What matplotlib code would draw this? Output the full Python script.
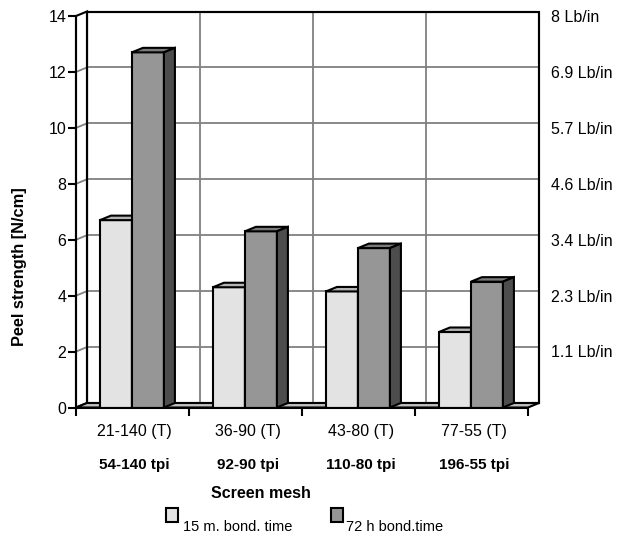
import matplotlib
matplotlib.use("Agg")
import matplotlib.pyplot as plt
from matplotlib.patches import Polygon, Rectangle

plt.rcParams['font.family'] = ['Liberation Sans', 'DejaVu Sans']

# data
mesh = ["21-140 (T)", "36-90 (T)", "43-80 (T)", "77-55 (T)"]
mesh_tpi = ["54-140 tpi", "92-90 tpi", "110-80 tpi", "196-55 tpi"]
bond_15m = [6.7, 4.3, 4.15, 2.7]
bond_72h = [12.7, 6.3, 5.7, 4.5]
series_names = ["15 m. bond. time", "72 h bond.time"]
y_ticks = [0, 2, 4, 6, 8, 10, 12, 14]
lb_labels = ["8 Lb/in", "6.9 Lb/in", "5.7 Lb/in", "4.6 Lb/in", "3.4 Lb/in", "2.3 Lb/in", "1.1 Lb/in"]
lb_levels = [14, 12, 10, 8, 6, 4, 2]

W, H = 631, 537
fig = plt.figure(figsize=(W/100, H/100), dpi=100)
# front plane of the pseudo 3d box, in pixels
x0, x1, yb, yt = 76, 528, 407.5, 16
ax = fig.add_axes([x0/W, 1-yb/H, (x1-x0)/W, (yb-yt)/H])
ax.set_xlim(0, 4)
ax.set_ylim(0, 14)
ax.patch.set_visible(False)

pxx = 4/(x1-x0)       # data units per pixel
pxy = 14/(yb-yt)
dx, dy = 11*pxx, 4.5*pxy   # depth offset

grid_c = '#808080'
lw_edge = 1.5

# back wall
ax.add_patch(Polygon([(dx, dy), (4+dx, dy), (4+dx, 14+dy), (dx, 14+dy)], closed=True,
                     facecolor='white', edgecolor='black', lw=lw_edge, clip_on=False, zorder=1))
# side wall
ax.add_patch(Polygon([(0, 0), (0, 14), (dx, 14+dy), (dx, dy)], closed=True,
                     facecolor='white', edgecolor='black', lw=lw_edge, clip_on=False, zorder=1))
for v in y_ticks[1:-1]:
    ax.plot([dx, 4+dx], [v+dy, v+dy], color=grid_c, lw=1.3, clip_on=False, zorder=1.5)
    ax.plot([0, dx], [v, v+dy], color=grid_c, lw=1.3, clip_on=False, zorder=1.5)
for k in range(1, 4):
    ax.plot([k+dx, k+dx], [dy, 14+dy], color=grid_c, lw=1.3, clip_on=False, zorder=1.5)
# redraw wall borders on top of grid
ax.plot([dx, dx, 4+dx, 4+dx], [dy, 14+dy, 14+dy, dy], color='black', lw=lw_edge,
        clip_on=False, zorder=1.6)
# floor
ax.add_patch(Polygon([(0, 0), (4, 0), (4+dx, dy), (dx, dy)], closed=True,
                     facecolor='#c0c0c0', edgecolor='black', lw=lw_edge, clip_on=False, zorder=2))

# bars
bw = 0.283
off = 0.212
colors = [('#e3e3e3', '#b4b4b4', '#8c8c8c'), ('#969696', '#7a7a7a', '#4d4d4d')]
z = 3
for i in range(len(mesh)):
    for s, vals in enumerate([bond_15m, bond_72h]):
        v = vals[i]
        xl = i + off + s*bw
        front, top, side = colors[s]
        ax.bar(xl, v, width=bw, align='edge', color=front, edgecolor='black', lw=lw_edge, zorder=z)
        ax.add_patch(Polygon([(xl, v), (xl+bw, v), (xl+bw+dx, v+dy), (xl+dx, v+dy)],
                             closed=True, facecolor=top, edgecolor='black', lw=lw_edge, zorder=z,
                             joinstyle='miter', clip_on=False))
        ax.add_patch(Polygon([(xl+bw, 0), (xl+bw, v), (xl+bw+dx, v+dy), (xl+bw+dx, dy)],
                             closed=True, facecolor=side, edgecolor='black', lw=lw_edge, zorder=z,
                             clip_on=False))
        z += 1

# front axes
for sp in ['top', 'right']:
    ax.spines[sp].set_visible(False)
for sp in ['left', 'bottom']:
    ax.spines[sp].set_linewidth(lw_edge)
    ax.spines[sp].set_zorder(20)
ax.set_yticks(y_ticks)
ax.set_yticklabels([str(t) for t in y_ticks])
ax.set_xticks(range(5))
ax.set_xticklabels([])
ax.tick_params(axis='both', direction='out', length=6, width=lw_edge, labelsize=11.5)
ax.tick_params(axis='y', pad=1)

# category labels
for i in range(len(mesh)):
    ax.text(i + 0.52, -0.876, mesh[i], ha='center', va='center', fontsize=11.5)
    ax.text(i + 0.52, -2.06, mesh_tpi[i], ha='center', va='center', fontsize=11,
            fontweight='bold')
ax.text((261-x0)*pxx, -3.06, "Screen mesh", ha='center', va='center', fontsize=11.5,
        fontweight='bold')

# secondary labels (Lb/in)
for lab, lev in zip(lb_labels, lb_levels):
    ax.text((551-x0)*pxx, lev - 0.05, lab, ha='left', va='center', fontsize=11.5, clip_on=False)

fig.text(20/W, 1-267/H, "Peel strength [N/cm]", rotation=90, ha='center', va='center',
         fontsize=11.8, fontweight='bold')

# legend
for (lx, tx), name, (c, _, _) in zip([(166, 183), (331, 346)], series_names, colors):
    fig.patches.append(Rectangle((lx/W, 1-522/H), 12/W, 14/H, transform=fig.transFigure,
                                 facecolor=c, edgecolor='black', lw=lw_edge))
    fig.text(tx/W, 1-527/H, name, ha='left', va='center', fontsize=10.5)

fig.savefig('out.png', dpi=100)
